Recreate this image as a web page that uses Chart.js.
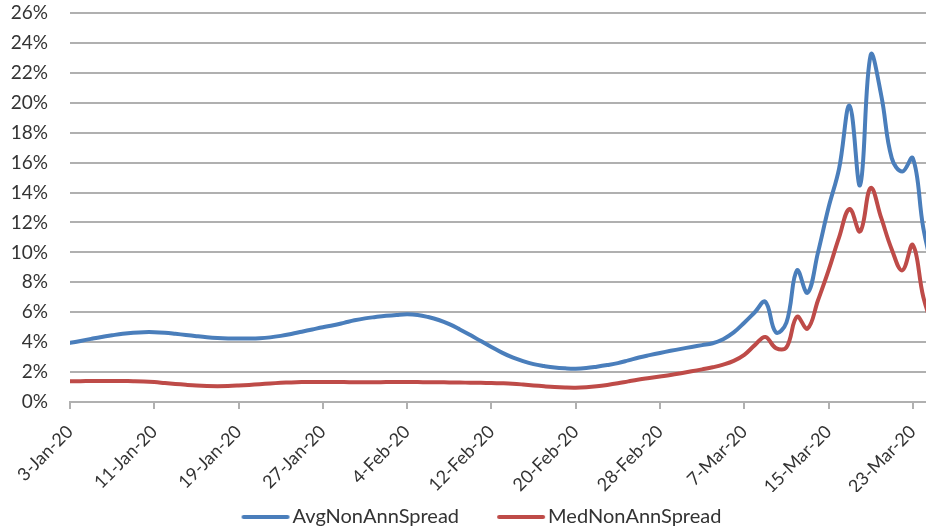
<!DOCTYPE html>
<html>
<head>
<meta charset="utf-8">
<script src="https://cdn.jsdelivr.net/npm/chart.js@4/dist/chart.umd.min.js"></script>
<style>
  html, body { margin: 0; padding: 0; background: #ffffff; }
  canvas { display: block; }
</style>
</head>
<body>
<canvas id="spreadChart" width="926" height="531"></canvas>
<script>
// Daily spread series, one value per calendar day starting 3-Jan-20 (in %)
const avgNonAnnSpread = [
  3.95, 4.08, 4.22, 4.35, 4.46, 4.56, 4.63, 4.67, 4.67, 4.63,
  4.56, 4.48, 4.40, 4.33, 4.28, 4.25, 4.24, 4.24, 4.26, 4.32,
  4.42, 4.55, 4.70, 4.85, 5.00, 5.13, 5.29, 5.46, 5.59, 5.68,
  5.76, 5.82, 5.86, 5.82, 5.68, 5.48, 5.20, 4.85, 4.47, 4.07,
  3.68, 3.30, 2.98, 2.73, 2.53, 2.40, 2.30, 2.25, 2.23, 2.27,
  2.36, 2.47, 2.60, 2.78, 2.97, 3.13, 3.28, 3.42, 3.55, 3.68,
  3.80, 3.93, 4.20, 4.65, 5.30, 6.00, 6.70, 4.65, 5.30, 8.80,
  7.30, 10.0, 13.0, 15.6, 19.8, 14.5, 23.2, 20.5, 16.3, 15.4,
  16.3, 11.6, 8.5
];
const medNonAnnSpread = [
  1.38, 1.39, 1.40, 1.40, 1.40, 1.40, 1.39, 1.37, 1.33, 1.27,
  1.21, 1.15, 1.10, 1.07, 1.06, 1.07, 1.10, 1.14, 1.19, 1.24,
  1.28, 1.31, 1.33, 1.34, 1.34, 1.34, 1.33, 1.32, 1.32, 1.32,
  1.33, 1.33, 1.33, 1.33, 1.32, 1.32, 1.31, 1.30, 1.29, 1.28,
  1.27, 1.25, 1.22, 1.17, 1.11, 1.05, 1.00, 0.97, 0.96, 0.99,
  1.05, 1.14, 1.25, 1.38, 1.50, 1.60, 1.70, 1.80, 1.92, 2.05,
  2.18, 2.32, 2.50, 2.75, 3.15, 3.80, 4.35, 3.60, 3.65, 5.70,
  4.90, 6.80, 8.80, 11.0, 12.9, 11.4, 14.3, 12.3, 10.2, 8.8,
  10.5, 7.0, 4.8
];
const seriesNames = ['AvgNonAnnSpread', 'MedNonAnnSpread'];
// Date labels shown every 8 days along the horizontal axis
const dateTickLabels = [
  '3-Jan-20', '11-Jan-20', '19-Jan-20', '27-Jan-20', '4-Feb-20', '12-Feb-20',
  '20-Feb-20', '28-Feb-20', '7-Mar-20', '15-Mar-20', '23-Mar-20'
];
const daysPerTick = 8;

const BLUE = '#4a7ebb';
const RED = '#be4b48';
const GRID = '#b0b0b0';
const TEXT = '#333333';
const FONT = 'Lato, "Open Sans", sans-serif';
const LEGEND_SIZE = 20;
const SWATCH_LEN = 48;   // visible line length in the legend
const SWATCH_BOX = 70;   // legend box width, includes blank lead-in space
const SWATCH_CANVAS = 100;

const toPoints = (values) => values.map((v, day) => ({ x: day, y: v }));

// Legend swatch: a thick line placed at the right end of the legend box,
// so the label follows it closely and the blank part spaces the items apart
function lineSwatch(color) {
  const c = document.createElement('canvas');
  c.width = SWATCH_CANVAS; c.height = 8;
  const g = c.getContext('2d');
  const end = SWATCH_BOX / 2 + SWATCH_CANVAS / 2 + 7;
  g.strokeStyle = color;
  g.lineWidth = 4;
  g.lineCap = 'round';
  g.beginPath();
  g.moveTo(end - SWATCH_LEN + 2, 4);
  g.lineTo(end - 2, 4);
  g.stroke();
  return c;
}

const legendShift = {
  id: 'legendShift',
  afterLayout(chart) {
    const lg = chart.legend;
    if (!lg) return;
    lg.left += 4; lg.right += 4;
    lg.top += 6; lg.bottom += 6;
  }
};

new Chart(document.getElementById('spreadChart'), {
  type: 'line',
  data: {
    datasets: [
      {
        label: seriesNames[0],
        data: toPoints(avgNonAnnSpread),
        borderColor: BLUE,
        backgroundColor: BLUE,
        borderWidth: 4,
        pointRadius: 0,
        tension: 0.4,
        fill: false,
        borderJoinStyle: 'round',
        borderCapStyle: 'round'
      },
      {
        label: seriesNames[1],
        data: toPoints(medNonAnnSpread),
        borderColor: RED,
        backgroundColor: RED,
        borderWidth: 4,
        pointRadius: 0,
        tension: 0.4,
        fill: false,
        borderJoinStyle: 'round',
        borderCapStyle: 'round'
      }
    ]
  },
  options: {
    responsive: false,
    animation: false,
    devicePixelRatio: 1,
    layout: { padding: { top: 13, right: 0, left: 0, bottom: 0 } },
    plugins: {
      tooltip: { enabled: false },
      legend: {
        position: 'bottom',
        labels: {
          usePointStyle: true,
          pointStyleWidth: SWATCH_BOX,
          padding: 9,
          color: TEXT,
          font: { family: FONT, size: LEGEND_SIZE },
          generateLabels(chart) {
            return chart.data.datasets.map((ds, i) => ({
              text: ds.label,
              datasetIndex: i,
              pointStyle: lineSwatch(ds.borderColor),
              fillStyle: ds.borderColor,
              strokeStyle: ds.borderColor,
              lineWidth: 0,
              fontColor: TEXT,
              hidden: false
            }));
          }
        }
      }
    },
    scales: {
      x: {
        type: 'linear',
        min: 0,
        max: 81.25,
        afterFit(scale) {
          scale.height = 90;
          scale.paddingRight = 0;
        },
        grid: {
          drawOnChartArea: false,
          drawTicks: true,
          tickLength: 7,
          color: GRID,
          lineWidth: 2
        },
        border: { display: true, color: GRID, width: 2 },
        ticks: {
          stepSize: daysPerTick,
          includeBounds: false,
          autoSkip: false,
          maxRotation: 45,
          minRotation: 45,
          padding: 12,
          color: TEXT,
          font: { family: FONT, size: 18 },
          callback(value) {
            const i = Math.round(value / daysPerTick);
            return dateTickLabels[i] ?? '';
          }
        }
      },
      y: {
        min: 0,
        max: 26,
        afterFit(scale) { scale.width = 70; },
        grid: {
          drawTicks: true,
          tickLength: 22,
          tickColor: 'rgba(0,0,0,0)',
          color: GRID,
          lineWidth: 2
        },
        border: { display: false },
        ticks: {
          stepSize: 2,
          maxTicksLimit: 20,
          padding: 0,
          color: TEXT,
          font: { family: FONT, size: 19 },
          callback(value) { return value + '%'; }
        }
      }
    }
  },
  plugins: [legendShift]
});
</script>
</body>
</html>
